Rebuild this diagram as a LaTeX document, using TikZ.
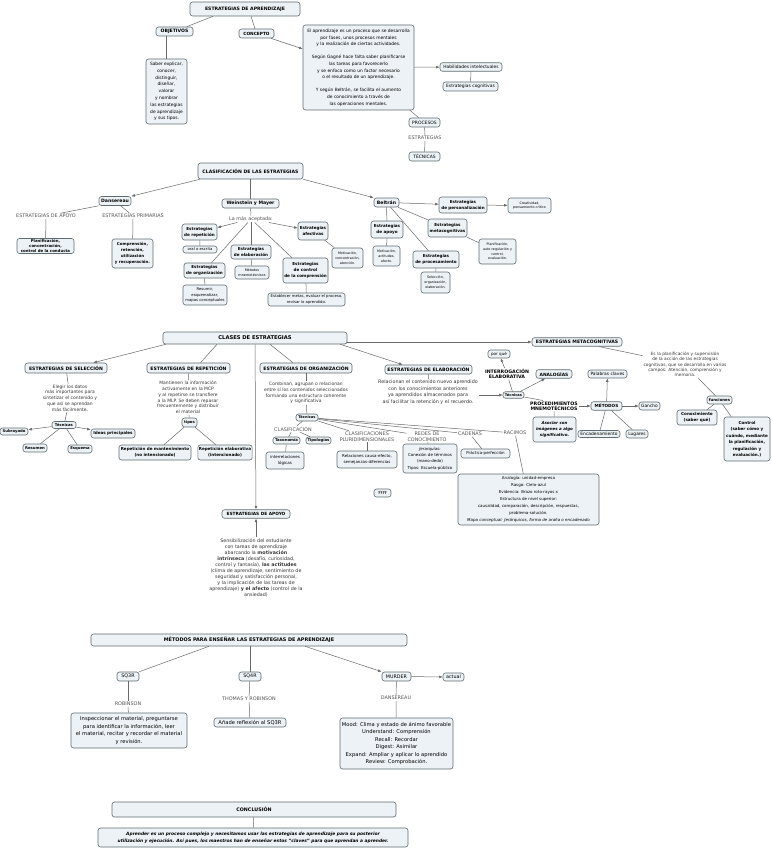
\documentclass[tikz,border=0pt]{standalone}
\usepackage{fontspec}
\setmainfont{DejaVu Sans}
\usetikzlibrary{arrows.meta,positioning}

\definecolor{boxfill}{RGB}{236,242,245}
\definecolor{boxline}{RGB}{96,108,114}
\definecolor{linkgray}{RGB}{105,105,105}
\definecolor{lblgray}{RGB}{85,85,85}
\definecolor{txtgray}{RGB}{55,55,55}

\tikzset{
  box/.style={rectangle, rounded corners=2.5pt, draw=boxline, line width=0.6pt, fill=boxfill,
    align=center, inner sep=1pt, font=\fontsize{4.4}{6.6}\selectfont},
  hbox/.style={box, font=\bfseries\fontsize{4.6}{5.6}\selectfont},
  bbox/.style={box, font=\bfseries\fontsize{4.1}{5.8}\selectfont},
  sbox/.style={box, font=\fontsize{3.8}{5.2}\selectfont},
  bigbox/.style={box, font=\fontsize{5.2}{7.4}\selectfont},
  lbl/.style={inner sep=0.8pt, align=center, text=lblgray, font=\fontsize{4.9}{5.6}\selectfont},
  txt/.style={inner sep=0.8pt, align=center, text=txtgray, font=\fontsize{4.5}{5.8}\selectfont},
  link/.style={draw=linkgray, line width=0.5pt},
  arr/.style={link, -{Latex[length=3.6pt,width=2.8pt]}}
}

\begin{document}
\begin{tikzpicture}[x=1pt, y=-1pt]
\fill[white] (0,0) rectangle (771,848);
\useasboundingbox (0,0) rectangle (771,848);

% --- estrategias de aprendizaje
\node[hbox, minimum width=110, minimum height=14] (aprend) at (245,9) {ESTRATEGIAS DE APRENDIZAJE};
\node[hbox, minimum width=37, minimum height=9] (objet) at (174.5,31.5) {OBJETIVOS};
\node[hbox, minimum width=35, minimum height=9, font=\bfseries\fontsize{4.3}{5}\selectfont] (concep) at (256.5,33.5) {CONCEPTO};
\node[box, minimum width=41, minimum height=65, font=\fontsize{4.4}{6.8}\selectfont] (saber) at (166.5,91.5)
  {Saber explicar,\\conocer,\\distinguir,\\diseñar,\\valorar\\y nombrar\\las estrategias\\de aprendizaje\\y sus tipos.};
\node[box, minimum width=111, minimum height=85] (concbox) at (358.5,67.5)
  {El aprendizaje es un proceso que se desarrolla\\por fases, unos procesos mentales\\y la realización de ciertas actividades.\\[6.6pt]
   Según Gagné hace falta saber planificarse\\las tareas para favorecerlo\\y se enfoca como un factor necesario\\o el resultado de un aprendizaje.\\[6.6pt]
   Y según Beltrán, se facilita el aumento\\de conocimiento a través de\\las operaciones mentales.};
\node[box, minimum width=62, minimum height=8.5] (habil) at (471,67) {Habilidades intelectuales};
\node[box, minimum width=55, minimum height=9] (cognit) at (470.5,86.5) {Estrategias cognitivas};
\node[box, minimum width=31, minimum height=9, font=\fontsize{4.5}{5}\selectfont] (proces) at (424.5,122.5) {PROCESOS};
\node[lbl] (lestrat) at (425,138) {ESTRATEGIAS};
\node[box, minimum width=31, minimum height=9, font=\fontsize{4.5}{5}\selectfont] (tecn) at (424.5,156.5) {TÉCNICAS};

\draw[link] ([xshift=-32pt]aprend.south) -- (objet);
\draw[link] ([xshift=6pt]aprend.south) -- (concep);
\draw[link] (objet.south -| saber.north) -- (saber.north);
\draw[arr] (concep) -- (concbox);
\draw[arr] (concbox) -- (habil);
\draw[link] (habil) -- (cognit);
\draw[link] (concbox) -- (proces);
\draw[link] (proces) -- (lestrat);
\draw[link] (lestrat) -- (tecn);

% --- clasificacion
\node[hbox, minimum width=105, minimum height=16] (clasif) at (250.5,171) {CLASIFICACIÓN DE LAS ESTRATEGIAS};
\node[hbox, minimum width=32, minimum height=9] (danse) at (115,201) {Dansereau};
\node[hbox, minimum width=57, minimum height=9] (weins) at (250.5,203.5) {Weinstein y Mayer};
\node[hbox, minimum width=25, minimum height=9] (beltr) at (386.5,202.5) {Beltrán};
\node[lbl] (lapoyo) at (46,216) {ESTRATEGIAS DE APOYO};
\node[lbl] (lprim) at (133,216) {ESTRATEGIAS PRIMARIAS};
\node[bbox, minimum width=57, minimum height=15, font=\bfseries\fontsize{3.9}{4.9}\selectfont] (planif) at (45.5,246) {Planificación,\\concentración,\\control de la conducta};
\node[bbox, minimum width=41, minimum height=29, font=\bfseries\fontsize{4}{6.2}\selectfont] (compr) at (132.5,253.5) {Comprensión,\\retención,\\utilización\\y recuperación.};
\node[lbl] (lmas) at (251,219) {La más aceptada:};
\node[bbox, minimum width=35, minimum height=16] (erep) at (199.5,232) {Estrategias\\de repetición};
\node[sbox, minimum width=34, minimum height=7] (oral) at (200,249.5) {oral o escrita};
\node[bbox, minimum width=40, minimum height=14] (eelab) at (251,252) {Estrategias\\de elaboración};
\node[sbox, minimum width=34, minimum height=13, font=\fontsize{3.4}{4.6}\selectfont] (mnemo) at (252,272.5) {Métodos\\mnemotécnicos};
\node[bbox, minimum width=41, minimum height=15] (eorg) at (204.5,270.5) {Estrategias\\de organización};
\node[sbox, minimum width=44, minimum height=20] (resum) at (205,295) {Resumir,\\esquematizar,\\mapas conceptuales};
\node[bbox, minimum width=45, minimum height=25] (econt) at (305.5,270.5) {Estrategias\\de control\\de la comprensión};
\node[sbox, minimum width=77, minimum height=13] (estab) at (306.5,299.5) {Establecer metas, evaluar el proceso,\\revisar lo aprendido.};
\node[bbox, minimum width=30, minimum height=18] (eafec) at (313,231) {Estrategias\\afectivas};
\node[sbox, minimum width=31, minimum height=20, font=\fontsize{3.3}{4.8}\selectfont] (motiv) at (347.5,258) {Motivación,\\concentración,\\atención.};
\node[bbox, minimum width=48, minimum height=16] (epers) at (463,205) {Estrategias\\de personalización};
\node[sbox, minimum width=43, minimum height=15, font=\fontsize{3.3}{4.8}\selectfont] (creat) at (529.5,205.5) {Creatividad,\\pensamiento crítico};
\node[bbox, minimum width=32, minimum height=17] (eapoy) at (387,229.5) {Estrategias\\de apoyo};
\node[sbox, minimum width=27, minimum height=20, font=\fontsize{3.3}{4.8}\selectfont] (motiv2) at (386.5,256) {Motivación,\\actitudes,\\afecto.};
\node[bbox, minimum width=39, minimum height=18] (emeta) at (447.5,228) {Estrategias\\metacognitivas};
\node[sbox, minimum width=37, minimum height=25, font=\fontsize{3.3}{4.8}\selectfont] (planif2) at (497.5,251.5) {Planificación,\\auto-regulación y\\control,\\evaluación.};
\node[bbox, minimum width=46, minimum height=17] (eproc) at (436,259.5) {Estrategias\\de procesamiento};
\node[sbox, minimum width=29, minimum height=21, font=\fontsize{3.3}{4.8}\selectfont] (selec) at (435.5,282.5) {Selección,\\organización,\\elaboración.};

\draw[arr] ([xshift=2pt]clasif.south west) -- (danse.north east);
\draw[link] (clasif) -- (weins);
\draw[arr] (clasif.south east) -- (beltr.north west);
\draw[link] (danse.south west) -- (lapoyo);
\draw[link] (lapoyo) -- (planif);
\draw[link] (danse) -- (lprim);
\draw[link] (lprim) -- (compr);
\draw[link] (weins) -- (lmas);
\draw[arr] (lmas) -- (erep);
\draw[arr] (lmas) -- (eafec);
\draw[link] (lmas) -- (eelab);
\draw[link] (lmas) -- (eorg);
\draw[link] (lmas) -- (econt);
\draw[link] (erep) -- (oral);
\draw[link] (eelab) -- (mnemo);
\draw[link] (eorg) -- (resum);
\draw[link] (econt) -- (estab);
\draw[link] (eafec) -- (motiv);
\draw[arr] (beltr) -- (epers);
\draw[arr] (epers) -- (creat);
\draw[link] (beltr) -- (eapoy);
\draw[link] (eapoy) -- (motiv2);
\draw[link] (beltr) -- (emeta);
\draw[link] (emeta) -- (planif2);
\draw[link] (beltr) -- (eproc);
\draw[link] (eproc) -- (selec);

% --- clases de estrategias
\node[hbox, minimum width=184, minimum height=12, font=\bfseries\fontsize{5.2}{6}\selectfont] (clases) at (255,338) {CLASES DE ESTRATEGIAS};
\node[hbox, minimum width=82, minimum height=10] (esel) at (66,368) {ESTRATEGIAS DE SELECCIÓN};
\node[txt] (elegir) at (70,398) {Elegir los datos\\más importantes para\\sintetizar el contenido y\\que así se aprendan\\más fácilmente.};
\node[bbox, minimum width=24, minimum height=7, font=\bfseries\fontsize{3.8}{4.5}\selectfont] (tsel) at (64,425) {Técnicas};
\node[bbox, minimum width=28, minimum height=7, font=\bfseries\fontsize{3.8}{4.5}\selectfont] (subr) at (14,431.5) {Subrayado};
\node[bbox, minimum width=44, minimum height=9] (ideas) at (113,433.5) {Ideas principales};
\node[bbox, minimum width=24, minimum height=8, font=\bfseries\fontsize{3.8}{4.5}\selectfont] (resu) at (35,448) {Resumen};
\node[bbox, minimum width=24, minimum height=8, font=\bfseries\fontsize{3.8}{4.5}\selectfont] (esqu) at (80,449) {Esquema};
\node[hbox, minimum width=83, minimum height=10] (erept) at (188.5,368) {ESTRATEGIAS DE REPETICIÓN};
\node[txt] (mant) at (188,397.5) {Mantienen la información\\activamente en la MCP\\y al repetirse se transfiere\\a la MLP. Se deben repasar\\frecuentemente y distribuir\\el material};
\node[bbox, minimum width=15, minimum height=9, font=\bfseries\fontsize{3.8}{4.5}\selectfont] (tipos) at (189.5,422.5) {tipos};
\node[bbox, minimum width=72, minimum height=15] (rmant) at (155,452.5) {Repetición de mantenimiento\\(no intencionado)};
\node[bbox, minimum width=54, minimum height=15] (relab) at (225,452.5) {Repetición elaborativa\\(intencionado)};
\node[hbox, minimum width=68, minimum height=8.5, font=\bfseries\fontsize{4.3}{5}\selectfont] (eapoyo) at (256,514) {ESTRATEGIAS DE APOYO};
\node[txt, font=\fontsize{4.8}{6}\selectfont] (sensib) at (256,567.5) {Sensibilización del estudiante\\con tareas de aprendizaje\\abarcando la \textbf{motivación}\\\textbf{intrínseca} (desafío, curiosidad,\\control y fantasía), \textbf{las actitudes}\\(clima de aprendizaje, sentimiento de\\seguridad y satisfacción personal,\\y la implicación de las tareas de\\aprendizaje) \textbf{y el afecto} (control de la\\ansiedad)};
\node[hbox, minimum width=92, minimum height=10] (eorga) at (306,368) {ESTRATEGIAS DE ORGANIZACIÓN};
\node[txt] (combin) at (306,393) {Combinan, agrupan o relacionan\\entre sí los contenidos seleccionados\\formando una estructura coherente\\y significativa};
\node[bbox, minimum width=22, minimum height=7, font=\bfseries\fontsize{3.6}{4.5}\selectfont] (torg) at (307,417.5) {Técnicas};
\node[lbl] (lclasif) at (293,429) {CLASIFICACIÓN};
\node[bbox, minimum width=27, minimum height=7, font=\bfseries\fontsize{3.8}{4.5}\selectfont] (taxon) at (286.5,440.5) {Taxonomía};
\node[bbox, minimum width=25, minimum height=7, font=\bfseries\fontsize{3.8}{4.5}\selectfont] (tipol) at (318.5,440.5) {Tipologías};
\node[box, minimum width=38, minimum height=17, font=\fontsize{4}{6}\selectfont] (interr) at (285,460.5) {interrelaciones\\lógicas};
\node[lbl] (lpluri) at (367,436.5) {CLASIFICACIONES\\PLURIDIMENSIONALES};
\node[box, minimum width=60, minimum height=17, font=\fontsize{4}{6}\selectfont] (relac) at (367,459.5) {Relaciones causa-efecto,\\semejanzas-diferencias};
\node[lbl] (lredes) at (427,436.5) {REDES DE\\CONOCIMIENTO};
\node[box, minimum width=54, minimum height=29, font=\fontsize{4}{6.4}\selectfont] (jerar) at (430,458.5) {\textit{Jerarquías:}\\Conexión de términos\\(mano-dedo)\\Tipos: Escuela-público};
\node[lbl] (lcaden) at (470,434) {CADENAS};
\node[box, minimum width=49, minimum height=9, font=\fontsize{4}{5}\selectfont] (pract) at (485.5,453.5) {Práctica-perfección};
\node[lbl] (lracim) at (515,433) {RACIMOS};
\node[box, minimum width=141, minimum height=51, font=\fontsize{4}{6.9}\selectfont] (analog) at (528.5,499.5) {Analogía: unidad-empresa\\Rasgo: Cielo-azul\\Evidencia: Brazo roto-rayos x\\Estructura de nivel superior:\\causalidad, comparación, descripción, respuestas,\\problema-solución.\\\textit{Mapa conceptual: Jerárquicos, forma de araña o encadenado}};
\node[bbox, minimum width=17, minimum height=8, font=\bfseries\fontsize{3.8}{4.5}\selectfont] (qqqq) at (382.5,493) {????};
\node[hbox, minimum width=87, minimum height=9] (eelabo) at (428.5,369.5) {ESTRATEGIAS DE ELABORACIÓN};
\node[txt, font=\fontsize{4.8}{6.6}\selectfont] (relacio) at (428,392) {Relacionan el contenido nuevo aprendido\\con los conocimientos anteriores\\ya aprendidos almacenados para\\así facilitar la retención y el recuerdo.};
\node[bbox, minimum width=21, minimum height=6.5, font=\bfseries\fontsize{3.6}{4.5}\selectfont] (telab) at (513.5,395) {Técnicas};
\node[lbl, text=black, font=\bfseries\fontsize{4.7}{5.4}\selectfont] (linter) at (507,374) {INTERROGACIÓN\\ELABORATIVA};
\node[box, minimum width=22, minimum height=8, font=\fontsize{4.1}{5}\selectfont] (porque) at (499,354) {por qué};
\node[hbox, minimum width=36, minimum height=8.5, font=\bfseries\fontsize{4.4}{5}\selectfont] (analo) at (554,374) {ANALOGÍAS};
\node[lbl, text=black, font=\bfseries\fontsize{4.7}{5.4}\selectfont] (lproc) at (554,406) {PROCEDIMIENTOS\\MNEMOTÉCNICOS};
\node[box, minimum width=43, minimum height=25, font=\bfseries\itshape\fontsize{4}{6.3}\selectfont] (asoc) at (554.5,429.5) {Asociar con\\imágenes a algo\\significativo.};
\node[hbox, minimum width=31, minimum height=8.5, font=\bfseries\fontsize{4.2}{5}\selectfont] (metod) at (606.5,406) {MÉTODOS};
\node[box, minimum width=39, minimum height=8] (palab) at (607.5,374) {Palabras claves};
\node[box, minimum width=21, minimum height=8] (ganch) at (649.5,406) {Gancho};
\node[box, minimum width=42, minimum height=7] (encad) at (599,434) {Encadenamiento};
\node[box, minimum width=22, minimum height=8] (lugar) at (637,434) {Lugares};
\node[hbox, minimum width=90, minimum height=8.5] (emetac) at (577,342) {ESTRATEGIAS METACOGNITIVAS};
\node[txt, font=\fontsize{4.3}{5.3}\selectfont] (esla) at (685,364.5) {Es la planificación y supervisión\\de la acción de las estrategias\\cognitivas, que se desarrolla en varios\\campos: Atención, comprensión y\\memoria.};
\node[bbox, minimum width=25, minimum height=8, font=\bfseries\fontsize{3.9}{4.5}\selectfont] (funci) at (719.5,400) {funciones};
\node[bbox, minimum width=40, minimum height=15] (conoc) at (697,417.5) {Conocimiento\\(saber qué)};
\node[bbox, minimum width=46, minimum height=44, font=\bfseries\fontsize{4.1}{6.5}\selectfont] (contr) at (747,439) {Control\\(saber cómo y\\cuándo, mediante\\la planificación,\\regulación y\\evaluación.)};

\draw[arr] ([xshift=3pt]clases.south west) -- ([xshift=-14pt]esel.north east);
\draw[link] ([xshift=-38pt]clases.south) -- ([xshift=12pt]erept.north);
\draw[arr] (clases) -- (eapoyo);
\draw[link] ([xshift=15pt]clases.south) -- ([xshift=-13pt]eorga.north);
\draw[arr] ([xshift=-7pt]clases.south east) -- ([xshift=18pt]eelabo.north west);
\draw[arr] (clases.east |- emetac) -- (emetac.west);
\draw[link] (esel) -- (elegir);
\draw[link] (elegir) -- (tsel);
\draw[arr] (tsel) -- (subr);
\draw[arr] (tsel) -- (ideas);
\draw[link] (tsel) -- (resu);
\draw[link] (tsel) -- (esqu);
\draw[link] (erept) -- (mant);
\draw[link] (mant) -- (tipos);
\draw[link] (tipos) -- (rmant);
\draw[link] (tipos) -- (relab);
\draw[arr] (sensib) -- (eapoyo);
\draw[link] (eorga) -- (combin);
\draw[link] (combin) -- (torg);
\draw[link] (torg) -- (lclasif);
\draw[link] (lclasif) -- (taxon);
\draw[link] (lclasif) -- (tipol);
\draw[link] (taxon) -- (interr);
\draw[link] (torg) -- (lpluri);
\draw[link] (lpluri) -- (relac);
\draw[link] (torg) -- (lredes);
\draw[link] (lredes) -- (jerar);
\draw[link] (torg) -- (lcaden);
\draw[link] (lcaden) -- (pract);
\draw[link] (torg) -- (lracim);
\draw[link] (lracim) -- (analog);
\draw[link] (eelabo) -- (relacio);
\draw[arr] (relacio.east |- telab) -- (telab);
\draw[link] (telab) -- (linter);
\draw[arr] (linter) -- (porque);
\draw[arr] (telab) -- (analo);
\draw[link] (telab) -- ([xshift=-11pt]lproc.north);
\draw[link] (lproc) -- (asoc);
\draw[arr] (lproc) -- (metod);
\draw[arr] (metod) -- (palab);
\draw[arr] (metod) -- (ganch);
\draw[link] (metod) -- (encad);
\draw[link] (metod) -- (lugar);
\draw[link] (emetac) -- (esla);
\draw[link] (esla) -- (funci);
\draw[link] (funci) -- (conoc);
\draw[link] (funci) -- (contr);

% --- metodos para ensenar
\node[hbox, minimum width=316, minimum height=12, font=\bfseries\fontsize{4.9}{6}\selectfont] (metens) at (249,640) {MÉTODOS PARA ENSEÑAR LAS ESTRATEGIAS DE APRENDIZAJE};
\node[bigbox, minimum width=22, minimum height=9, font=\fontsize{4.8}{5}\selectfont] (sq3r) at (128,676.5) {SQ3R};
\node[lbl] (lrobin) at (128,704) {ROBINSON};
\node[bigbox, minimum width=116, minimum height=35] (inspec) at (129,730.5) {Inspeccionar el material, preguntarse\\para identificar la información, leer\\el material, recitar y recordar el material\\y revisión.};
\node[bigbox, minimum width=22, minimum height=9, font=\fontsize{4.8}{5}\selectfont] (sq4r) at (250,676.5) {SQ4R};
\node[lbl] (lthomas) at (249,699) {THOMAS Y ROBINSON};
\node[bigbox, minimum width=72, minimum height=9] (anade) at (250,722.5) {Añade reflexión al SQ3R};
\node[bigbox, minimum width=29, minimum height=9, font=\fontsize{4.8}{5}\selectfont] (murder) at (396.5,676.5) {MURDER};
\node[bigbox, minimum width=21, minimum height=8, font=\fontsize{4.8}{5}\selectfont] (actual) at (453.5,677) {actual};
\node[lbl] (ldanse) at (396,698) {DANSEREAU};
\node[bigbox, minimum width=113, minimum height=51] (mood) at (396.5,743.5) {Mood: Clima y estado de ánimo favorable\\Understand: Comprensión\\Recall: Recordar\\Digest: Asimilar\\Expand: Ampliar y aplicar lo aprendido\\Review: Comprobación.};

\draw[link] ([xshift=-40pt]metens.south) -- (sq3r.north east);
\draw[link] (metens.south -| sq4r.north) -- (sq4r);
\draw[arr] ([xshift=56pt]metens.south) -- (murder.north west);
\draw[link] (sq3r) -- (lrobin);
\draw[link] (lrobin) -- (inspec);
\draw[link] (sq4r) -- (lthomas);
\draw[link] (lthomas) -- (anade);
\draw[link] (murder) -- (ldanse);
\draw[link] (ldanse) -- (mood);
\draw[arr] (murder) -- (actual);

% --- conclusion
\node[hbox, minimum width=284, minimum height=15, font=\bfseries\fontsize{4.8}{6}\selectfont] (concl) at (254,809.5) {CONCLUSIÓN};
\node[box, minimum width=310, minimum height=19, font=\bfseries\itshape\fontsize{4.4}{7}\selectfont] (aprender) at (253,837.5) {Aprender es un proceso complejo y necesitamos usar las estrategias de aprendizaje para su posterior\\utilización y ejecución. Así pues, los maestros han de enseñar estos "claves" para que aprendan a aprender.};
\draw[link] (concl) -- (aprender);

\end{tikzpicture}
\end{document}
